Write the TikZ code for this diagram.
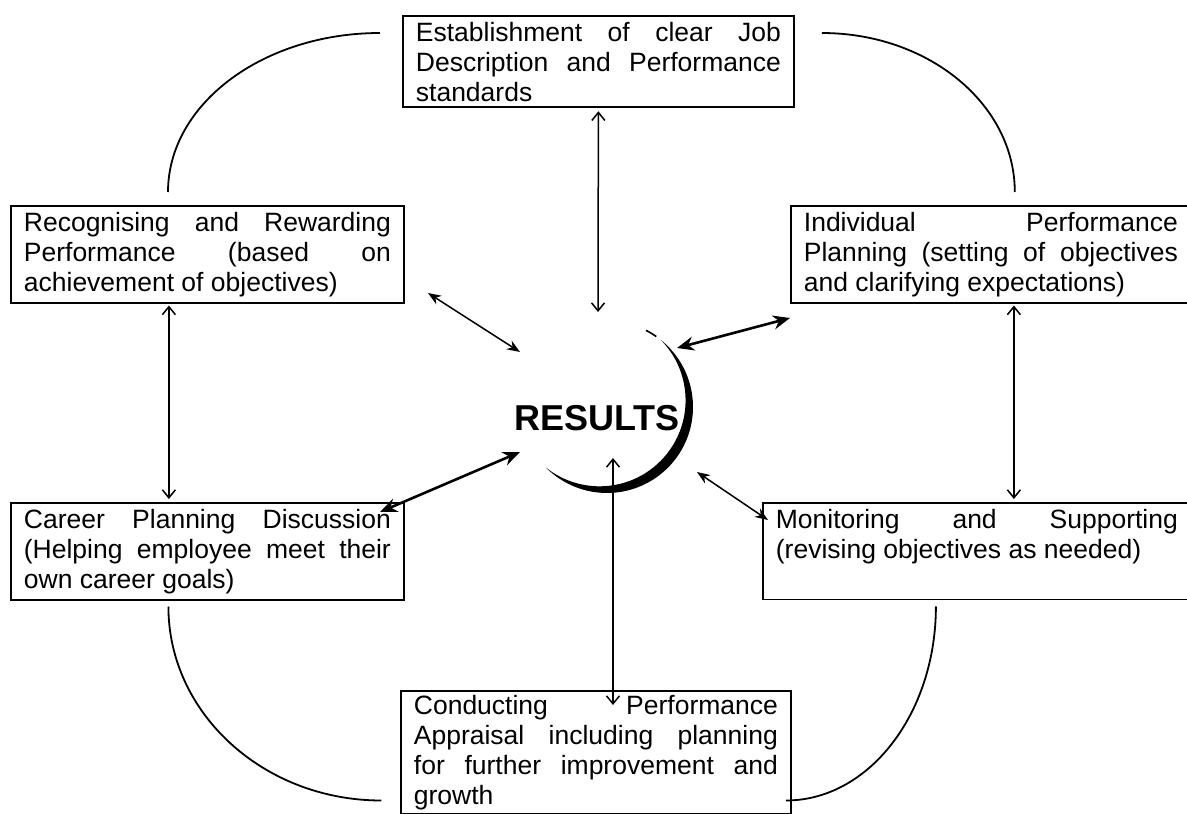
\documentclass[tikz,border=0pt]{standalone}
\usepackage{fontspec}
\setmainfont{Liberation Sans}
\usetikzlibrary{arrows.meta}
\usetikzlibrary{calc}
\setlength{\parindent}{0pt}
\tikzset{
  stage/.style={
    draw, line width=1.8pt, anchor=north west, align=justify,
    inner xsep=13pt, inner ysep=6pt,
    font=\fontsize{26.5}{30}\selectfont
  },
  link/.style={{Stealth[length=13pt,width=10pt]}-{Stealth[length=13pt,width=10pt]}, line width=1.5pt},
  boldlink/.style={{Stealth[length=17pt,width=14pt]}-{Stealth[length=17pt,width=14pt]}, line width=2.6pt},
  vlink/.style={{Straight Barb[length=8pt,width=13pt]}-{Straight Barb[length=8pt,width=13pt]}, line width=1.5pt},
  cycle arc/.style={line width=1.8pt}
}
\begin{document}
\begin{tikzpicture}[x=1pt, y=-1pt]
  \useasboundingbox (0,0) rectangle (1187,814);

  \node[stage, text width=365pt] (estab) at (402,15)
    {Establishment of clear Job\linebreak Description and Performance\linebreak standards};
  \node[stage, text width=367pt] (recog) at (10,205)
    {Recognising and Rewarding\linebreak Performance (based on\linebreak achievement of objectives)};
  \node[stage, text width=374pt] (indiv) at (790,205)
    {Individual Performance\linebreak Planning (setting of objectives\linebreak and clarifying expectations)};
  \node[stage, text width=367pt] (career) at (10,502)
    {Career Planning Discussion\linebreak (Helping employee meet their\linebreak own career goals)};
  \node[stage, text width=402pt] (monit) at (762,502)
    {Monitoring and Supporting\linebreak (revising objectives as needed)\par\vphantom{)}};
  \node[stage, text width=364pt, inner ysep=4pt] (apprais) at (400,690)
    {Conducting Performance\linebreak Appraisal including planning\linebreak for further improvement and\linebreak growth};

  \node[font=\bfseries\fontsize{36}{40}\selectfont] (results) at (597,418) {RESULTS};
  \begin{scope}[shift={(607,407)}]
    \fill (-51.33:86) arc[start angle=-51.33, end angle=135.33, radius=86]
      arc[start angle=128.67, end angle=-44.67, radius=86] -- cycle;
    \draw[line width=1.6pt] (-63:86) arc[start angle=-63, end angle=-55, radius=86];
  \end{scope}

  \coordinate (hubN) at (598,312);
  \coordinate (hubNW) at (520,352);
  \coordinate (hubNE) at (677,348);
  \coordinate (hubSW) at (520,452);
  \coordinate (hubSE) at (697,472);
  \coordinate (hubS) at (613,458);
  \coordinate (recogEnd) at (428,293);
  \coordinate (indivEnd) at (790,318);
  \coordinate (careerEnd) at (380,512);
  \coordinate (monitEnd) at (768,520);
  \coordinate (appraisEnd) at (613,705);

  \draw[vlink, shorten <=3pt] (estab.south) -- (hubN);
  \draw[link] (recogEnd) -- (hubNW);
  \draw[boldlink] (hubNE) -- (indivEnd);
  \draw[boldlink] (careerEnd) -- (hubSW);
  \draw[link] (hubSE) -- (monitEnd);
  \draw[vlink] (hubS) -- (appraisEnd);
  \draw[vlink, shorten <=2pt, shorten >=3pt] ([xshift=-38.5pt]recog.south) -- ([xshift=-38.5pt]career.north);
  \draw[vlink, shorten <=2pt, shorten >=3pt] ([xshift=23pt]indiv.south) -- ([xshift=37pt]monit.north);

  \draw[cycle arc] ([xshift=-22pt,yshift=-18pt]estab.north west)
    arc[start angle=-90, end angle=-180, x radius=212, y radius=159];
  \draw[cycle arc] ([xshift=27pt,yshift=-18pt]estab.north east)
    arc[start angle=-90, end angle=0, x radius=193, y radius=159];
  \draw[cycle arc] ([xshift=-39pt,yshift=-6pt]career.south)
    arc[start angle=180, end angle=90, x radius=213, y radius=194];
  \draw[cycle arc] ([xshift=-41pt,yshift=-6pt]monit.south)
    arc[start angle=0, end angle=90, x radius=150, y radius=194];
\end{tikzpicture}
\end{document}
